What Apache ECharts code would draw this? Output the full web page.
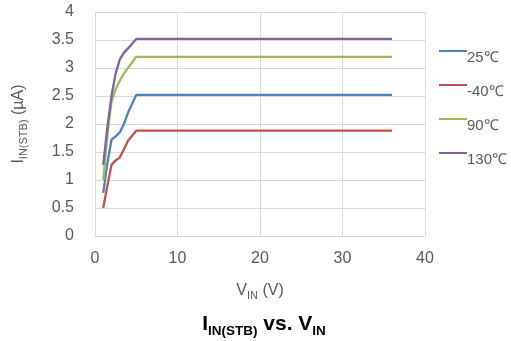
<!DOCTYPE html>
<html><head><meta charset="utf-8">
<script src="https://cdn.jsdelivr.net/npm/echarts@6/dist/echarts.min.js"></script>
<style>html,body{margin:0;padding:0;background:#fff}#c{width:511px;height:341px}</style>
</head><body><div id="c"></div>
<script>
const vin = [1, 1.5, 2, 2.5, 3, 3.5, 4, 5, 36];
const seriesNames = ['25℃', '-40℃', '90℃', '130℃'];
const i25 = [0.77, 1.3, 1.72, 1.78, 1.85, 2.0, 2.2, 2.52, 2.52];
const iM40 = [0.5, 0.9, 1.27, 1.35, 1.4, 1.55, 1.7, 1.88, 1.88];
const i90 = [1.0, 1.8, 2.4, 2.62, 2.77, 2.9, 3.0, 3.2, 3.2];
const i130 = [1.27, 1.95, 2.5, 2.9, 3.15, 3.27, 3.35, 3.52, 3.52];
const xTicks = [0, 10, 20, 30, 40];
const yTicks = [0, 0.5, 1, 1.5, 2, 2.5, 3, 3.5, 4];
const colors = ['#4F81BD', '#C0504D', '#9BBB59', '#8064A2'];
const allData = [i25, iM40, i90, i130];

const chart = echarts.init(document.getElementById('c'), null, {renderer: 'canvas'});
const font = 'Liberation Sans, Arial, sans-serif';
chart.setOption({
  animation: false,
  color: colors,
  grid: {left: 95, right: 86, top: 12, bottom: 105},
  title: {
    text: '{b|I}{s|IN(STB)}{b| vs. V}{s|IN}',
    left: 259, top: 309, textAlign: 'center',
    textStyle: {
      rich: {
        b: {fontFamily: font, fontWeight: 'bold', fontSize: 21, color: '#000', verticalAlign: 'bottom'},
        s: {fontFamily: font, fontWeight: 'bold', fontSize: 13.5, color: '#000', verticalAlign: 'bottom', padding: [0, 0, -3, 0]}
      }
    }
  },
  legend: {
    orient: 'vertical', left: 434, top: 45, itemGap: 18.5,
    itemWidth: 28, itemHeight: 2, icon: 'rect',
    data: seriesNames,
    formatter: n => '{a|' + n + '}',
    textStyle: {fontFamily: font, fontSize: 15, color: '#595959',
      rich: {a: {fontFamily: font, fontSize: 15, color: '#595959', padding: [14, 0, 0, -5]}}}
  },
  xAxis: {
    type: 'value', min: 0, max: 40, interval: 10,
    name: '{n|V}{s|IN}{n| (V)}', nameLocation: 'middle', nameGap: 47,
    nameTextStyle: {rich: {
      n: {fontFamily: font, fontSize: 16, color: '#595959', verticalAlign: 'bottom'},
      s: {fontFamily: font, fontSize: 11, color: '#595959', verticalAlign: 'bottom', padding: [0, 0, -2, 0]}
    }},
    axisLine: {lineStyle: {color: '#d9d9d9'}},
    axisTick: {show: false},
    axisLabel: {fontFamily: font, fontSize: 16, color: '#595959', margin: 15,
      customValues: xTicks},
    splitLine: {show: true, lineStyle: {color: '#d9d9d9'}}
  },
  yAxis: {
    type: 'value', min: 0, max: 4, interval: 0.5,
    name: '{n|I}{s|IN(STB)}{n| (µA)}', nameLocation: 'middle', nameGap: 68, nameRotate: 90,
    nameTextStyle: {rich: {
      n: {fontFamily: font, fontSize: 16, color: '#595959', verticalAlign: 'bottom'},
      s: {fontFamily: font, fontSize: 11, color: '#595959', verticalAlign: 'bottom', padding: [0, 0, -2, 0]}
    }},
    axisLine: {show: true, lineStyle: {color: '#d9d9d9'}},
    axisTick: {show: false},
    axisLabel: {fontFamily: font, fontSize: 16, color: '#595959', margin: 21,
      formatter: v => String(v)},
    splitLine: {show: true, lineStyle: {color: '#d9d9d9'}}
  },
  series: seriesNames.map((n, k) => ({
    name: n, type: 'line', symbol: 'none',
    lineStyle: {width: 2.3, color: colors[k]},
    data: vin.map((x, i) => [x, allData[k][i]])
  }))
});
</script></body></html>
